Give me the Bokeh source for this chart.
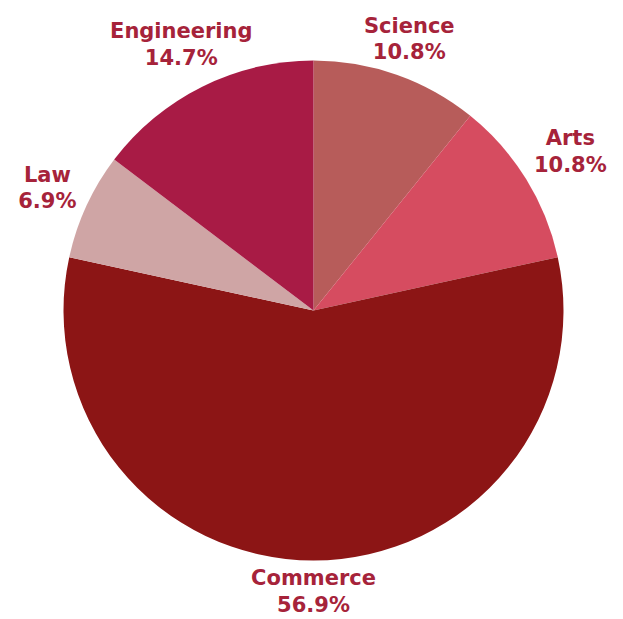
import math
from bokeh.plotting import figure
from bokeh.models import ColumnDataSource, Range1d
from bokeh.core.properties import value
from bokeh.embed import file_html
from bokeh.resources import INLINE

categories = ["Science", "Arts", "Commerce", "Law", "Engineering"]
shares = [10.8, 10.8, 56.9, 6.9, 14.7]
colors = ["#b75c5a", "#d64c60", "#8c1515", "#cfa5a5", "#a81b45"]

W, H = 621, 619
R = 250
# distance of each label block from the pie centre (style)
label_dist = [288, 302, 281, 293, 297]

total = sum(shares)
starts, ends, lx, ly, texts = [], [], [], [], []
cum = 0.0
for c, s, d in zip(categories, shares, label_dist):
    a0 = math.pi / 2 - cum / total * 2 * math.pi
    cum += s
    a1 = math.pi / 2 - cum / total * 2 * math.pi
    starts.append(a0)
    ends.append(a1)
    mid = (a0 + a1) / 2
    lx.append(d * math.cos(mid))
    ly.append(d * math.sin(mid))
    texts.append(f"{c}\n{s:.1f}%")

src = ColumnDataSource(dict(start=starts, end=ends, color=colors,
                            lx=lx, ly=ly, text=texts))

p = figure(width=W, height=H, output_backend="svg", toolbar_location=None,
           x_range=Range1d(-313, 308), y_range=Range1d(-309, 310),
           min_border=0)
p.wedge(x=0, y=0, radius=R, start_angle="start", end_angle="end",
        direction="clock", fill_color="color", line_color=None, source=src)
p.text(x="lx", y="ly", text="text", source=src, text_align="center",
       text_baseline="middle", text_font=value("DejaVu Sans"),
       text_font_style="bold", text_font_size="21px", text_color="#a6233a",
       text_line_height=1.1)
p.axis.visible = False
p.grid.visible = False
p.outline_line_color = None
p.background_fill_color = "white"
p.border_fill_color = "white"

open("out.html", "w").write(file_html(p, INLINE))
